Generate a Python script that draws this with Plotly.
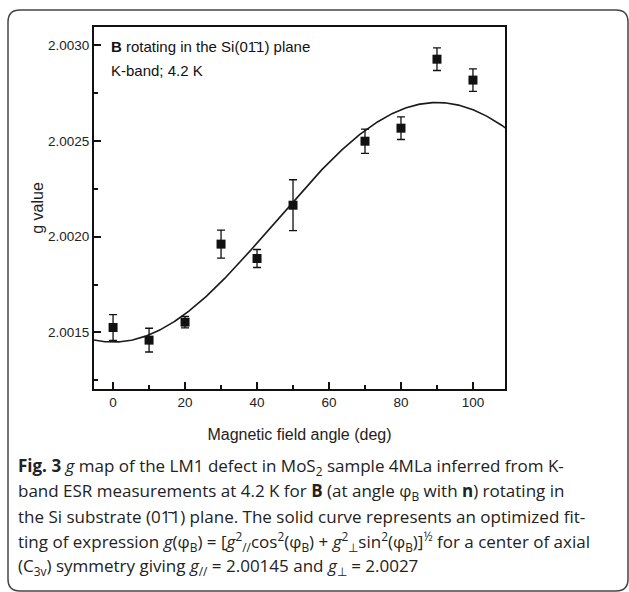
import numpy as np
import plotly.graph_objects as go

# ---- data ----
angles = [0, 10, 20, 30, 40, 50, 70, 80, 90, 100]
g_values = [2.001526, 2.001460, 2.001554, 2.001961, 2.001886, 2.002164,
            2.002498, 2.002566, 2.002926, 2.002817]
g_errors = [0.000067, 0.000062, 0.000030, 0.000073, 0.000047, 0.000133,
            0.000063, 0.000059, 0.000059, 0.000059]
y_tick_vals = [2.0015, 2.0020, 2.0025, 2.0030]
y_tick_text = ["2.0015", "2.0020", "2.0025", "2.0030"]
x_tick_vals = [0, 20, 40, 60, 80, 100]

# fit parameters given in the caption
g_par = 2.00145
g_perp = 2.0027
fit_phi = np.linspace(-5.3, 109, 300)
fit_g = np.sqrt(g_par**2 * np.cos(np.radians(fit_phi))**2 +
                g_perp**2 * np.sin(np.radians(fit_phi))**2)

W, H = 629, 592
L, R, T, B = 94, 505, 27, 389

def px(x):
    return (x - L) / (R - L)

def py(y):
    return (B - y) / (B - T)

fig = go.Figure()
fig.add_trace(go.Scatter(x=fit_phi, y=fit_g, mode="lines",
                         line=dict(color="#1a1a1a", width=1.6),
                         hoverinfo="skip", showlegend=False))
fig.add_trace(go.Scatter(x=angles, y=g_values, mode="markers",
                         marker=dict(symbol="square", size=9, color="#111111"),
                         error_y=dict(type="data", array=g_errors, visible=True,
                                      color="#111111", thickness=1.3, width=4),
                         showlegend=False))

ff = "Liberation Sans, Arial, sans-serif"
fig.update_layout(
    width=W, height=H,
    margin=dict(l=L, r=W - R, t=T, b=H - B),
    paper_bgcolor="white", plot_bgcolor="white",
    font=dict(family=ff, size=14, color="#222222"),
    xaxis=dict(range=[-5.3, 108.9], tickvals=x_tick_vals, ticks="inside",
               ticklen=7, tickwidth=2, tickcolor="#111111",
               tickfont=dict(family=ff, size=13.5, color="#222222"),
               showline=True, linewidth=2, linecolor="#111111", mirror=True,
               showgrid=False, zeroline=False,
               minor=dict(dtick=10, ticks="inside", ticklen=4, tickwidth=2,
                          tickcolor="#111111", showgrid=False),
               title=dict(text="Magnetic field angle (deg)",
                          font=dict(family=ff, size=16, color="#222222"),
                          standoff=20)),
    yaxis=dict(range=[2.001205, 2.003094], tickvals=y_tick_vals, ticktext=y_tick_text,
               ticks="inside", ticklen=7, tickwidth=2, tickcolor="#111111",
               tickfont=dict(family=ff, size=13.5, color="#222222"),
               showline=True, linewidth=2, linecolor="#111111", mirror=True,
               showgrid=False, zeroline=False,
               minor=dict(dtick=0.00025, ticks="inside", ticklen=4, tickwidth=2,
                          tickcolor="#111111", showgrid=False),
               title=dict(text="g value",
                          font=dict(family=ff, size=16, color="#222222"),
                          standoff=0)),
)

# in-plot labels
fig.add_annotation(xref="paper", yref="paper", x=px(109), y=py(47), xanchor="left",
                   yanchor="middle", showarrow=False, align="left",
                   text="<b>B</b> rotating in the Si(01\u03041) plane",
                   font=dict(family=ff, size=15, color="#111111"))
fig.add_annotation(xref="paper", yref="paper", x=px(109), y=py(70), xanchor="left",
                   yanchor="middle", showarrow=False, align="left",
                   text="K-band; 4.2 K",
                   font=dict(family=ff, size=15, color="#111111"))

# caption
cap_font = dict(family="Open Sans, Noto Sans, sans-serif", size=17, color="#222222")
caption_lines = [
    "<b>Fig. 3</b> <i>g</i> map of the LM1 defect in MoS<sub>2</sub> sample 4MLa inferred from K-",
    "band ESR measurements at 4.2 K for <b>B</b> (at angle \u03c6<sub>B</sub> with <b>n</b>) rotating in",
    "the Si substrate (01\u03041) plane. The solid curve represents an optimized fit-",
    "ting of expression <i>g</i>(\u03c6<sub>B</sub>) = [<i>g</i><sup>2</sup><sub>//</sub>cos<sup>2</sup>(\u03c6<sub>B</sub>) + <i>g</i><sup>2</sup><sub>\u22a5</sub>sin<sup>2</sup>(\u03c6<sub>B</sub>)]<sup>\u00bd</sup> for a center of axial",
    "(C<sub>3v</sub>) symmetry giving <i>g</i><sub>//</sub> = 2.00145 and <i>g</i><sub>\u22a5</sub> = 2.0027",
]
caption_y = [466, 491, 516, 541, 566]
for txt, yy in zip(caption_lines, caption_y):
    fig.add_annotation(xref="paper", yref="paper", x=px(16), y=py(yy), xanchor="left",
                       yanchor="middle", showarrow=False, align="left", text=txt,
                       font=cap_font)

# rounded frame around the figure
x0, x1, y0, y1, r = 8, 628, 10, 591, 12
pts = (f"M {px(x0 + r)},{py(y0)} L {px(x1 - r)},{py(y0)} "
       f"Q {px(x1)},{py(y0)} {px(x1)},{py(y0 + r)} L {px(x1)},{py(y1 - r)} "
       f"Q {px(x1)},{py(y1)} {px(x1 - r)},{py(y1)} L {px(x0 + r)},{py(y1)} "
       f"Q {px(x0)},{py(y1)} {px(x0)},{py(y1 - r)} L {px(x0)},{py(y0 + r)} "
       f"Q {px(x0)},{py(y0)} {px(x0 + r)},{py(y0)} Z")
fig.add_shape(type="path", path=pts, xref="paper", yref="paper",
              line=dict(color="#444444", width=1.5), layer="below")

fig.write_html("out.html", config={"displayModeBar": False},
               post_script="document.body.style.margin='0';document.body.style.overflow='hidden';")
